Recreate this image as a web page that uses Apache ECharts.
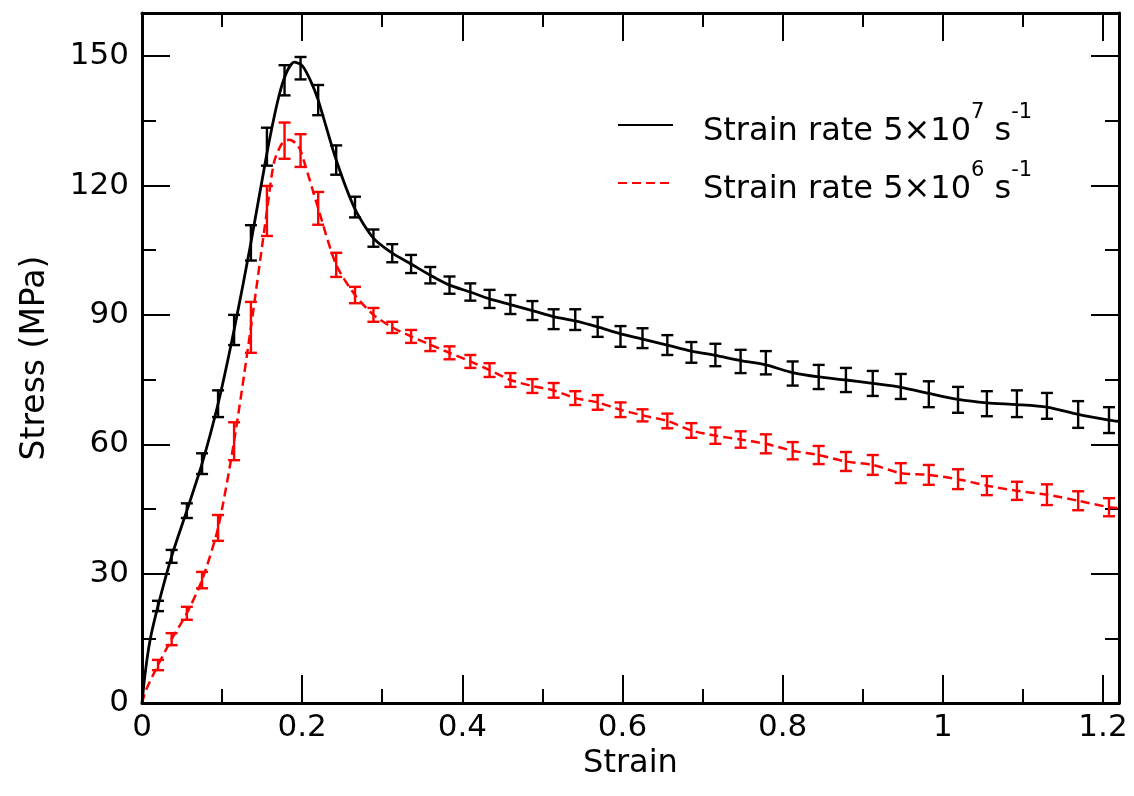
<!DOCTYPE html>
<html>
<head>
<meta charset="utf-8">
<script src="https://cdn.jsdelivr.net/npm/echarts@6/dist/echarts.min.js"></script>
<style>html,body{margin:0;padding:0;background:#fff}#c{width:1134px;height:796px}</style>
</head>
<body>
<div id="c"></div>
<script>
// ---------- data ----------
const xMajorTicks = [0, 0.2, 0.4, 0.6, 0.8, 1, 1.2];
const xTickLabels = ['0', '0.2', '0.4', '0.6', '0.8', '1', '1.2'];
const xMinorTicks = [0.1, 0.3, 0.5, 0.7, 0.9, 1.1];
const yMajorTicks = [0, 30, 60, 90, 120, 150];
const yTickLabels = ['0', '30', '60', '90', '120', '150'];
const yMinorTicks = [15, 45, 75, 105, 135];

// error-bar strain positions (shared by both series)
const barStrain = [0.02, 0.037, 0.056, 0.075, 0.095, 0.115, 0.136, 0.156, 0.178, 0.198,
  0.22, 0.2425, 0.266, 0.289, 0.3125, 0.336, 0.36, 0.384, 0.41, 0.434,
  0.46, 0.4875, 0.514, 0.541, 0.569, 0.5975, 0.625, 0.656, 0.686, 0.716,
  0.7475, 0.779, 0.8125, 0.845, 0.879, 0.9125, 0.9475, 0.9825, 1.019, 1.055,
  1.0925, 1.13, 1.169, 1.2075];

// strain rate 5e7 (black)
const blackBarStress = [22.5, 34.0, 44.6, 55.5, 69.4, 86.5, 106.7, 129.0, 144.4, 147.2,
  139.8, 125.9, 115.0, 107.8, 104.3, 101.8, 99.2, 96.9, 95.3, 93.7,
  92.4, 91.0, 89.0, 88.9, 87.2, 85.0, 84.6, 83.0, 81.3, 80.7,
  79.2, 78.9, 76.4, 75.6, 74.9, 74.1, 73.4, 71.6, 70.3, 69.4,
  69.4, 68.9, 66.9, 65.6];
const blackBarErr = [1.2, 1.5, 1.7, 2.4, 3.1, 3.5, 4.1, 4.4, 3.5, 2.6,
  3.5, 3.4, 2.4, 2.0, 2.1, 2.1, 1.9, 2.0, 2.0, 2.1,
  2.2, 2.2, 2.3, 2.4, 2.3, 2.4, 2.3, 2.3, 2.4, 2.6,
  2.7, 2.7, 2.8, 2.8, 2.8, 2.9, 2.9, 3.0, 3.0, 2.9,
  3.1, 3.0, 3.1, 3.0];
const blackCurveStrain = [0, 0.004, 0.01, 0.02, 0.037, 0.056, 0.075, 0.095, 0.115, 0.136,
  0.156, 0.17, 0.18, 0.19, 0.2, 0.21, 0.22, 0.2425, 0.266, 0.289,
  0.3125, 0.336, 0.36, 0.384, 0.41, 0.434, 0.46, 0.4875, 0.514, 0.541,
  0.569, 0.5975, 0.625, 0.656, 0.686, 0.716, 0.7475, 0.779, 0.8125, 0.845,
  0.879, 0.9125, 0.9475, 0.9825, 1.019, 1.055, 1.0925, 1.13, 1.169, 1.2075, 1.22];
const blackCurveStress = [0, 7, 14.5, 22.5, 34.0, 44.6, 55.5, 69.4, 86.5, 106.7,
  127.5, 140, 146, 148.6, 147.8, 144.5, 139.8, 125.9, 114.5, 107.8,
  104.3, 101.8, 99.2, 96.9, 95.3, 93.7, 92.4, 91.0, 89.6, 88.6,
  87.2, 85.6, 84.4, 83.0, 81.6, 80.6, 79.4, 78.4, 76.6, 75.6,
  74.9, 74.1, 73.2, 71.8, 70.4, 69.6, 69.2, 68.6, 66.9, 65.6, 65.3];

// strain rate 5e6 (red)
const redBarStress = [8.8, 14.8, 20.8, 28.5, 40.6, 60.7, 87.1, 114.1, 130.4, 128.1,
  114.7, 101.6, 94.6, 90.0, 87.1, 85.0, 83.1, 81.2, 79.2, 77.2,
  74.9, 73.5, 72.5, 70.7, 69.7, 68.0, 66.7, 65.4, 63.2, 62.0,
  61.1, 60.1, 58.5, 57.5, 56.0, 55.2, 53.3, 52.9, 51.9, 50.4,
  49.2, 48.3, 46.9, 45.4];
const redBarErr = [1.2, 1.4, 1.5, 1.9, 3.0, 4.4, 5.9, 5.8, 4.2, 3.8,
  3.8, 2.8, 1.9, 1.6, 1.3, 1.5, 1.5, 1.5, 1.5, 1.6,
  1.6, 1.6, 1.7, 1.6, 1.7, 1.7, 1.4, 1.7, 1.7, 1.9,
  1.9, 2.2, 2.0, 2.1, 2.2, 2.3, 2.3, 2.3, 2.3, 2.2,
  2.1, 2.4, 2.2, 2.1];
const redCurveStrain = [0, 0.005, 0.02, 0.037, 0.056, 0.075, 0.095, 0.115, 0.136, 0.156,
  0.165, 0.175, 0.184, 0.192, 0.198, 0.22, 0.2425, 0.266, 0.289, 0.3125,
  0.336, 0.36, 0.384, 0.41, 0.434, 0.46, 0.4875, 0.514, 0.541, 0.569,
  0.5975, 0.625, 0.656, 0.686, 0.716, 0.7475, 0.779, 0.8125, 0.845, 0.879,
  0.9125, 0.9475, 0.9825, 1.019, 1.055, 1.0925, 1.13, 1.169, 1.2075, 1.22];
const redCurveStress = [0, 3, 8.8, 14.8, 20.8, 28.5, 40.6, 60.7, 87.1, 114.1,
  125.5, 129.8, 130.6, 129.8, 128.1, 114.7, 101.6, 94.6, 90.0, 87.1,
  85.0, 83.1, 81.2, 79.2, 77.2, 74.9, 73.5, 72.5, 70.7, 69.7,
  68.0, 66.7, 65.4, 63.2, 62.0, 61.1, 60.1, 58.5, 57.5, 56.0,
  55.2, 53.3, 52.9, 51.9, 50.4, 49.2, 48.3, 46.9, 45.4, 45.2];

const seriesNames = ['Strain rate 5×10^7 s^-1', 'Strain rate 5×10^6 s^-1'];

// ---------- build ----------
const FONT = 'DejaVu Sans';
const zip2 = (a, b) => a.map((v, i) => [v, b[i]]);
const zip3 = (a, b, c) => a.map((v, i) => [v, b[i], c[i]]);

function errorBarRender(color) {
  return function (params, api) {
    const x = api.value(0), y = api.value(1), e = api.value(2);
    const t = api.coord([x, y + e]);
    const b = api.coord([x, y - e]);
    const hw = 6;
    const st = { stroke: color, lineWidth: 2.4 };
    return {
      type: 'group',
      children: [
        { type: 'line', shape: { x1: t[0], y1: t[1], x2: b[0], y2: b[1] }, style: st },
        { type: 'line', shape: { x1: t[0] - hw, y1: t[1], x2: t[0] + hw, y2: t[1] }, style: st },
        { type: 'line', shape: { x1: b[0] - hw, y1: b[1], x2: b[0] + hw, y2: b[1] }, style: st }
      ]
    };
  };
}

function mkAxis(kind, pos, ticks, len, showLine, labels) {
  const isX = kind === 'x';
  const majors = isX ? xMajorTicks : yMajorTicks;
  const texts = isX ? xTickLabels : yTickLabels;
  return {
    type: 'value', min: 0, max: isX ? 1.22 : 160, position: pos,
    axisLine: { show: showLine, onZero: false, lineStyle: { color: '#000', width: 3 } },
    axisTick: { show: true, inside: true, length: len, customValues: ticks, lineStyle: { color: '#000', width: 2 } },
    axisLabel: labels ? {
      show: true, customValues: majors, color: '#000', fontFamily: FONT, fontSize: 31, margin: isX ? 9 : 13,
      formatter: v => { const i = majors.findIndex(t => Math.abs(t - v) < 1e-9); return i >= 0 ? texts[i] : ''; }
    } : { show: false },
    splitLine: { show: false },
    minorTick: { show: false }
  };
}

const xb = mkAxis('x', 'bottom', xMajorTicks, 28, true, true);
xb.name = 'Strain'; xb.nameLocation = 'middle'; xb.nameGap = 44;
xb.nameTextStyle = { fontFamily: FONT, fontSize: 32, color: '#000' };
const yl = mkAxis('y', 'left', yMajorTicks, 28, true, true);
yl.name = 'Stress (MPa)'; yl.nameLocation = 'middle'; yl.nameGap = 90;
yl.nameTextStyle = { fontFamily: FONT, fontSize: 33, color: '#000' };

function legendFmt(name) {
  const m = name.match(/^(.*)\^(\S+) s\^(\S+)$/);
  return '{a|' + m[1] + '}{s|' + m[2] + '}{b| s}{s|' + m[3] + '}';
}

const option = {
  animation: false,
  backgroundColor: '#fff',
  grid: { left: 142, right: 15, top: 13, bottom: 93, containLabel: false },
  xAxis: [
    xb,
    mkAxis('x', 'bottom', xMinorTicks, 14, false, false),
    mkAxis('x', 'top', xMajorTicks, 28, true, false),
    mkAxis('x', 'top', xMinorTicks, 14, false, false)
  ],
  yAxis: [
    yl,
    mkAxis('y', 'left', yMinorTicks, 14, false, false),
    mkAxis('y', 'right', yMajorTicks, 28, true, false),
    mkAxis('y', 'right', yMinorTicks, 14, false, false)
  ],
  legend: {
    orient: 'vertical', left: 617, top: 102, padding: 0,
    itemWidth: 55, itemHeight: 14, itemGap: 12,
    selectedMode: false,
    data: seriesNames,
    formatter: legendFmt,
    itemStyle: { opacity: 0 },
    textStyle: {
      color: '#000', fontFamily: FONT,
      rich: {
        a: { fontFamily: FONT, fontSize: 32, color: '#000', padding: [14, 0, 0, 25], verticalAlign: 'bottom' },
        b: { fontFamily: FONT, fontSize: 32, color: '#000', padding: [14, 0, 0, 0], verticalAlign: 'bottom' },
        s: { fontFamily: FONT, fontSize: 21, color: '#000', verticalAlign: 'top' }
      }
    }
  },
  series: [
    {
      name: seriesNames[1], type: 'line', data: zip2(redCurveStrain, redCurveStress),
      showSymbol: false, symbol: 'none', smooth: 0.25,
      lineStyle: { color: '#ff0000', width: 2.5, type: [9, 5] },
      itemStyle: { color: '#ff0000' }, z: 2
    },
    {
      name: 'redErr', type: 'custom', data: zip3(barStrain, redBarStress, redBarErr),
      renderItem: errorBarRender('#ff0000'), encode: { x: 0, y: 1 }, z: 3, silent: true
    },
    {
      name: seriesNames[0], type: 'line', data: zip2(blackCurveStrain, blackCurveStress),
      showSymbol: false, symbol: 'none', smooth: 0.25,
      lineStyle: { color: '#000', width: 2.8 },
      itemStyle: { color: '#000' }, z: 4
    },
    {
      name: 'blackErr', type: 'custom', data: zip3(barStrain, blackBarStress, blackBarErr),
      renderItem: errorBarRender('#000'), encode: { x: 0, y: 1 }, z: 5, silent: true
    }
  ]
};

const chart = echarts.init(document.getElementById('c'), null, { renderer: 'canvas' });
chart.setOption(option);
</script>
</body>
</html>
